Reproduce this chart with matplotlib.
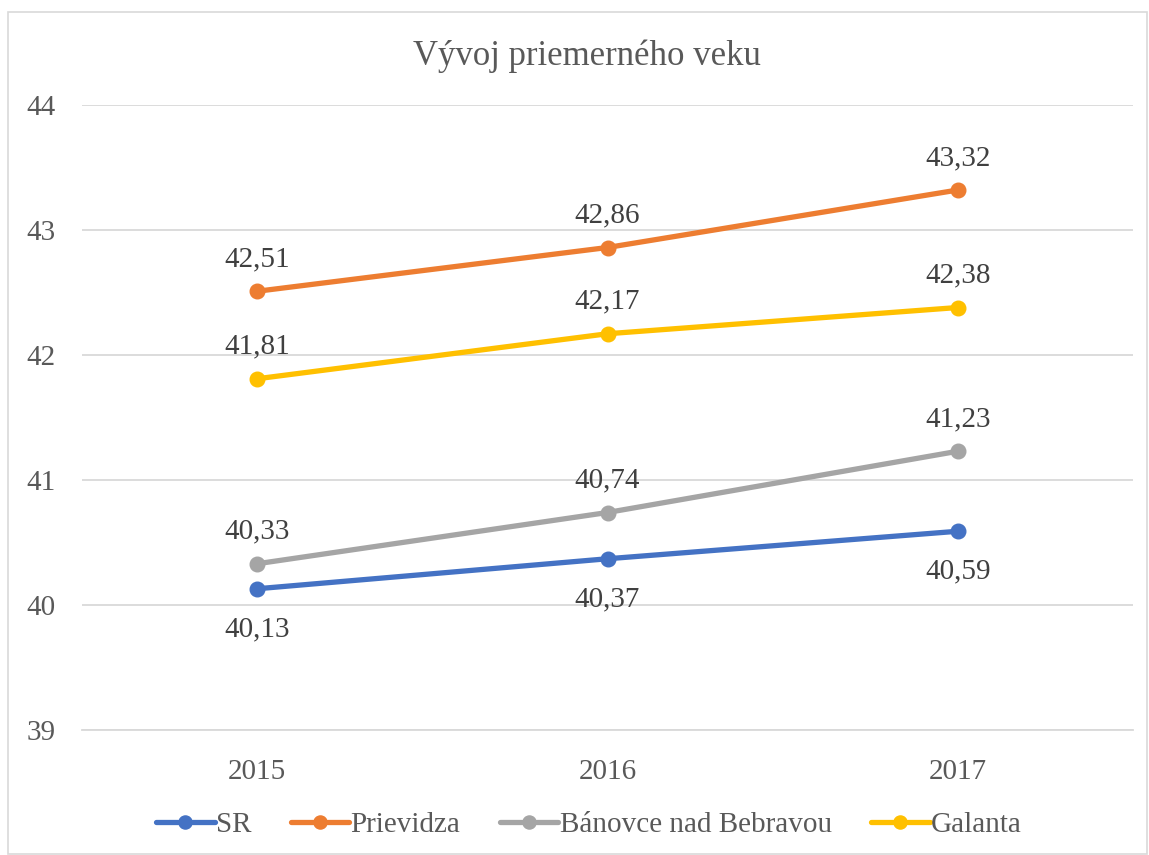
import matplotlib
matplotlib.use("Agg")
import matplotlib.pyplot as plt
from matplotlib.patches import Rectangle

years = ["2015", "2016", "2017"]
series_names = ["SR", "Prievidza", "Bánovce nad Bebravou", "Galanta"]
sr = [40.13, 40.37, 40.59]
prievidza = [42.51, 42.86, 43.32]
banovce = [40.33, 40.74, 41.23]
galanta = [41.81, 42.17, 42.38]
colors = ["#4472C4", "#ED7D31", "#A5A5A5", "#FFC000"]
label_pos = [
    ["below", "below", "below"],
    ["above", "above", "above"],
    ["above", "above", "above"],
    ["above", "above", "above"],
]
y_ticks = [39, 40, 41, 42, 43, 44]
title = "Vývoj priemerného veku"

plt.rcParams["font.family"] = ["Liberation Serif", "DejaVu Serif"]

W, H = 1149, 855
fig = plt.figure(figsize=(W / 100, H / 100), dpi=100)
fig.patches.append(Rectangle((8 / W, 1 / H), (1147 - 8) / W, (855 - 12 - 1) / H,
                             transform=fig.transFigure, fill=False,
                             edgecolor="#D9D9D9", linewidth=1.2))

ax = fig.add_axes([82 / W, 1 - 730 / H, (1133 - 82) / W, (730 - 105) / H])
x = list(range(len(years)))
all_series = [sr, prievidza, banovce, galanta]
for vals, name, col, pos in zip(all_series, series_names, colors, label_pos):
    ax.plot(x, vals, color=col, lw=3.8, marker="o", ms=10.5, label=name,
            solid_capstyle="round", zorder=3)
    for xi, v, p in zip(x, vals, pos):
        off = 23 if p == "above" else -29
        ax.annotate(f"{v:.2f}".replace(".", ","), (xi, v), xytext=(0, off),
                    textcoords="offset points", ha="center", va="center",
                    fontsize=21, color="#404040")

ax.set_xlim(-0.5, 2.5)
ax.set_ylim(39, 44)
ax.set_yticks(y_ticks)
ax.set_yticklabels([str(t) for t in y_ticks])
ax.set_xticks(x)
ax.set_xticklabels(years)
ax.grid(axis="y", color="#D9D9D9", lw=1.3)
ax.set_axisbelow(True)
for s in ["top", "right", "left"]:
    ax.spines[s].set_visible(False)
ax.spines["bottom"].set_color("#D9D9D9")
ax.spines["bottom"].set_linewidth(1.3)
ax.tick_params(axis="both", length=0, labelsize=21, labelcolor="#595959")
ax.tick_params(axis="y", pad=40)
ax.tick_params(axis="x", pad=21)
for lab in ax.get_yticklabels():
    lab.set_horizontalalignment("left")

fig.text(587 / W, 1 - 56 / H, title, ha="center", va="center",
         fontsize=25, color="#595959")

leg = fig.legend(loc="center", bbox_to_anchor=(589 / W, 1 - 825 / H), ncol=4,
                 frameon=False, fontsize=21, handlelength=2.0, handletextpad=0.05,
                 columnspacing=1.35, labelcolor="#595959", markerscale=0.9)

fig.savefig("out.png", dpi=100)
